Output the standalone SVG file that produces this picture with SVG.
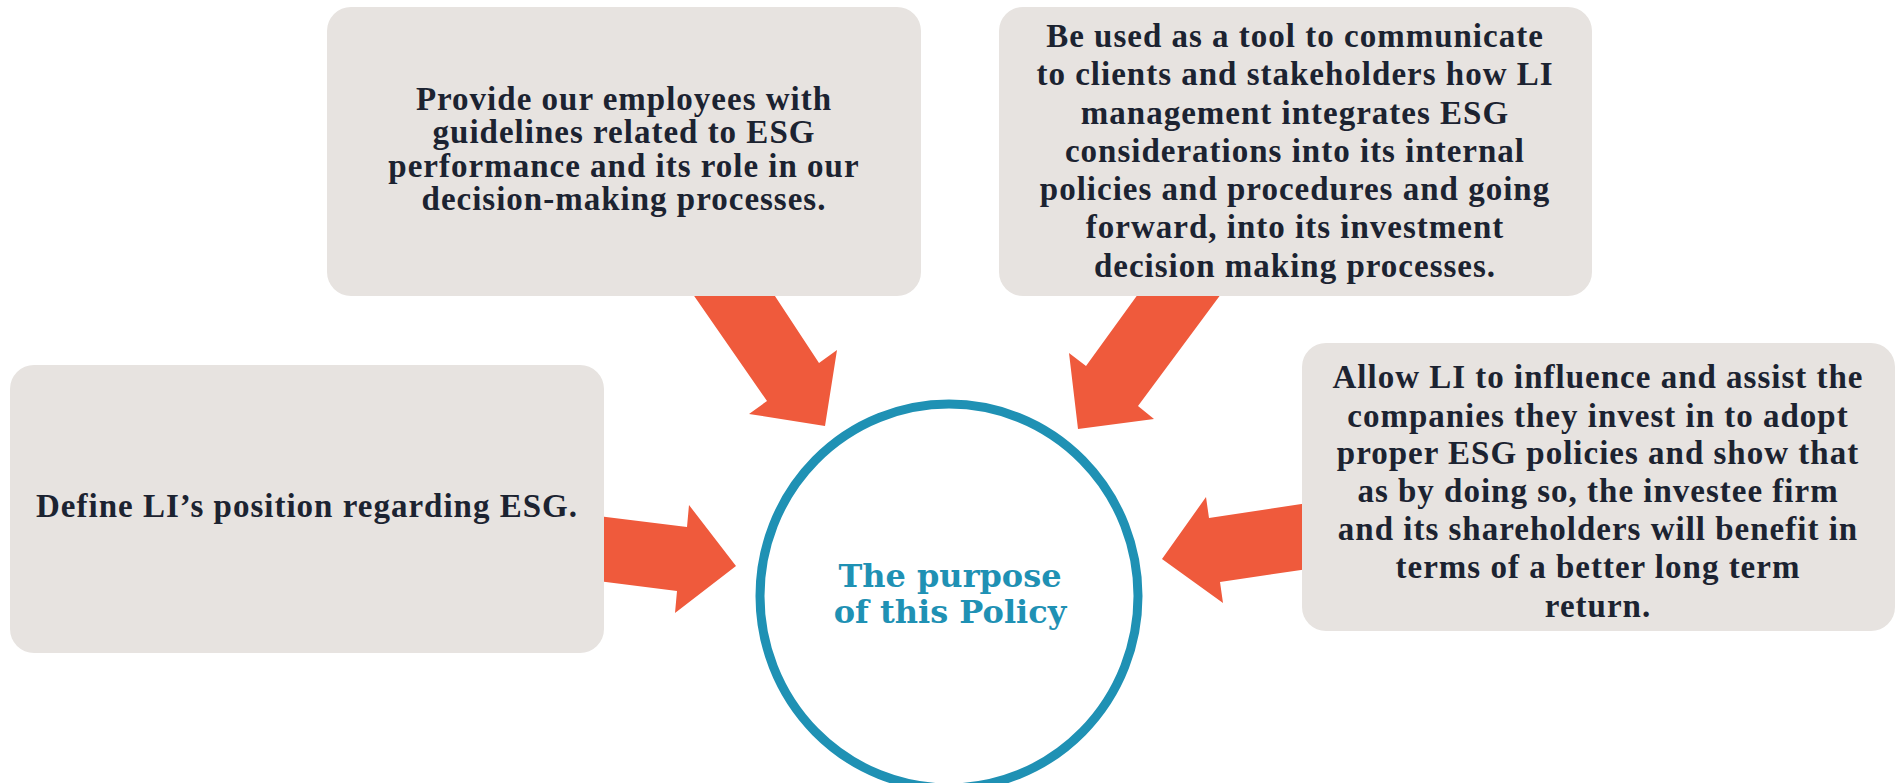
<svg xmlns="http://www.w3.org/2000/svg" width="1897" height="783" viewBox="0 0 1897 783">
  <style>
    .box { fill: #E7E3E0; }
    .arrow { fill: #EF5A3C; }
    .txt { font-family: "Liberation Serif", "Times New Roman", serif; font-weight: bold; font-size: 33px; letter-spacing: 1px; fill: #1C2331; text-anchor: middle; }
    .ctxt { font-family: "DejaVu Serif", "Liberation Serif", serif; font-weight: bold; font-size: 32px; fill: #1F91B4; text-anchor: middle; }
  </style>
  <rect width="1897" height="783" fill="#FFFFFF"/>
  <g id="connectors">
    <polygon class="arrow" points="690,290 771,290 819,363 837,350 825,426 749,414 767,401"/>
    <polygon class="arrow" points="1141,290 1224,290 1138,406 1154,419 1078,429 1069,353 1086,366"/>
    <polygon class="arrow" points="598,516 687,527 689,505 736,566 675,613 677,591 598,581"/>
    <polygon class="arrow" points="1308,503 1209,518 1206,497 1162,559 1223,603 1220,582 1308,569"/>
  </g>
  <g id="center">
    <ellipse cx="949" cy="596" rx="189" ry="192" fill="#FFFFFF" stroke="#1F91B4" stroke-width="9"/>
    <text class="ctxt" x="950" y="587">The purpose</text>
    <text class="ctxt" x="950" y="623">of this Policy</text>
  </g>
  <g id="node-employees">
    <rect class="box" x="327" y="7" width="594" height="289" rx="24"/>
    <text class="txt" x="624" y="110">Provide our employees with</text>
    <text class="txt" x="624" y="143">guidelines related to ESG</text>
    <text class="txt" x="624" y="177">performance and its role in our</text>
    <text class="txt" x="624" y="210">decision-making processes.</text>
  </g>
  <g id="node-communicate">
    <rect class="box" x="999" y="7" width="593" height="289" rx="24"/>
    <text class="txt" x="1295" y="47">Be used as a tool to communicate</text>
    <text class="txt" x="1295" y="85">to clients and stakeholders how LI</text>
    <text class="txt" x="1295" y="124">management integrates ESG</text>
    <text class="txt" x="1295" y="162">considerations into its internal</text>
    <text class="txt" x="1295" y="200">policies and procedures and going</text>
    <text class="txt" x="1295" y="238">forward, into its investment</text>
    <text class="txt" x="1295" y="277">decision making processes.</text>
  </g>
  <g id="node-define">
    <rect class="box" x="10" y="365" width="594" height="288" rx="24"/>
    <text class="txt" x="307" y="517">Define LI’s position regarding ESG.</text>
  </g>
  <g id="node-influence">
    <rect class="box" x="1302" y="343" width="593" height="288" rx="24"/>
    <text class="txt" x="1598" y="388">Allow LI to influence and assist the</text>
    <text class="txt" x="1598" y="427">companies they invest in to adopt</text>
    <text class="txt" x="1598" y="464">proper ESG policies and show that</text>
    <text class="txt" x="1598" y="502">as by doing so, the investee firm</text>
    <text class="txt" x="1598" y="540">and its shareholders will benefit in</text>
    <text class="txt" x="1598" y="578">terms of a better long term</text>
    <text class="txt" x="1598" y="617">return.</text>
  </g>
</svg>
